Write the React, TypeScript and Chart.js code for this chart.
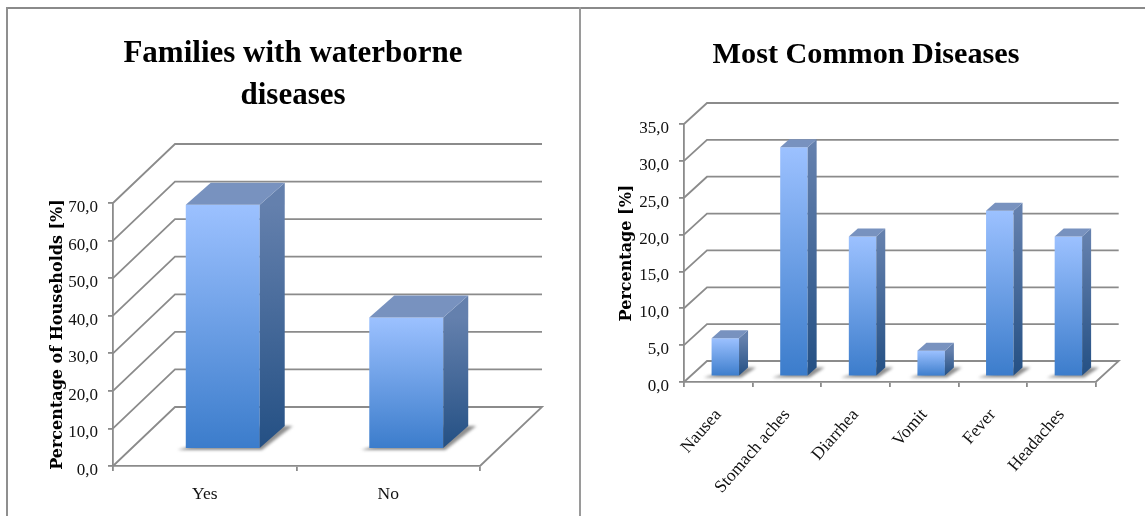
import React, { useEffect, useRef } from "react";
import { Chart, registerables } from "chart.js";

Chart.register(...registerables);

const householdCategories = ["Yes", "No"];
const householdValues = [65, 35];
const householdTicks = [0, 10, 20, 30, 40, 50, 60, 70];

const diseaseCategories = ["Nausea", "Stomach aches", "Diarrhea", "Vomit", "Fever", "Headaches"];
const diseaseValues = [5.2, 31.1, 19.0, 3.5, 22.5, 19.0];
const diseaseTicks = [0, 5, 10, 15, 20, 25, 30, 35];

const SERIF = "'Liberation Serif', serif";
const GRID = "#8b8b8b";
const LINE = 1.8;

type Panel = {
  title: string | string[];
  titleSize: number;
  yTitle: string;
  labels: string[];
  values: number[];
  ticks: number[];
  left: number;
  width: number;
  padLeft: number;
  yWidth: number;
  spacerWidth: number;
  yTitlePad: number;
  xHeight: number;
  titlePad: { top: number; bottom: number };
  wall: { dx: number; dy: number };
  barShift: { dx: number; dy: number };
  depth: { dx: number; dy: number };
  barFraction: number;
  rotation: number;
  xPad: number;
};

const panels: Panel[] = [
  {
    title: ["Families with waterborne", "diseases"],
    titleSize: 31,
    yTitle: "Percentage of Households [%]",
    labels: householdCategories,
    values: householdValues,
    ticks: householdTicks,
    left: 7,
    width: 572,
    padLeft: 0,
    yWidth: 106,
    spacerWidth: 99,
    yTitlePad: 41,
    xHeight: 50,
    titlePad: { top: 25, bottom: 86 },
    wall: { dx: 62, dy: 59 },
    barShift: { dx: 18, dy: 17 },
    depth: { dx: 25, dy: 22 },
    barFraction: 0.403,
    rotation: 0,
    xPad: 13,
  },
  {
    title: "Most Common Diseases",
    titleSize: 30.2,
    yTitle: "Percentage [%]",
    labels: diseaseCategories,
    values: diseaseValues,
    ticks: diseaseTicks,
    left: 579,
    width: 566,
    padLeft: 8,
    yWidth: 97,
    spacerWidth: 49.3,
    yTitlePad: 30,
    xHeight: 134,
    titlePad: { top: 26, bottom: 48 },
    wall: { dx: 23, dy: 21 },
    barShift: { dx: 7, dy: 5.5 },
    depth: { dx: 9, dy: 8 },
    barFraction: 0.4,
    rotation: 49,
    xPad: 18,
  },
];

// Extrudes the flat bars and draws the back wall and floor of the box.
function boxPlugin(p: Panel) {
  return {
    id: "box3d",
    afterUpdate(chart: any) {
      // Digits sit a little below the tick in this chart style.
      chart.scales.y.getLabelItems().forEach((item: any) => {
        item.options.translation[1] += 4.5;
      });
    },
    beforeDatasetsDraw(chart: any) {
      const { ctx, chartArea, scales } = chart;
      const { dx, dy } = p.wall;
      ctx.save();
      ctx.strokeStyle = GRID;
      ctx.lineWidth = LINE;
      p.ticks.forEach((t) => {
        const y = scales.y.getPixelForValue(t);
        ctx.beginPath();
        ctx.moveTo(chartArea.left, y);
        ctx.lineTo(chartArea.left + dx, y - dy);
        ctx.lineTo(chartArea.right + dx, y - dy);
        if (t === 0) {
          ctx.lineTo(chartArea.right, y);
        }
        ctx.stroke();
      });

      // Soft contact shadow on the floor under each bar.
      const { dx: sx, dy: sy } = p.barShift;
      const d = p.depth;
      const spread = 8;
      ctx.filter = "blur(1.8px)";
      ctx.fillStyle = "rgba(105,105,105,0.75)";
      chart.getDatasetMeta(0).data.forEach((bar: any) => {
        const xL = bar.x - bar.width / 2 + sx;
        const xR = bar.x + bar.width / 2 + sx;
        const base = bar.base - sy;
        ctx.beginPath();
        ctx.moveTo(xL - spread, base + 2);
        ctx.lineTo(xR + 2, base + 2);
        ctx.lineTo(xR + d.dx + spread, base - d.dy);
        ctx.lineTo(xR, base - d.dy);
        ctx.closePath();
        ctx.fill();
      });
      ctx.restore();

      ctx.save();
      ctx.translate(sx, -sy);
    },
    afterDatasetsDraw(chart: any) {
      const { ctx } = chart;
      const d = p.depth;
      chart.getDatasetMeta(0).data.forEach((bar: any) => {
        const xL = bar.x - bar.width / 2;
        const xR = bar.x + bar.width / 2;
        const side = ctx.createLinearGradient(0, bar.y, 0, bar.base);
        side.addColorStop(0, "#6480ad");
        side.addColorStop(1, "#245084");
        ctx.fillStyle = side;
        ctx.beginPath();
        ctx.moveTo(xR, bar.y);
        ctx.lineTo(xR + d.dx, bar.y - d.dy);
        ctx.lineTo(xR + d.dx, bar.base - d.dy);
        ctx.lineTo(xR, bar.base);
        ctx.closePath();
        ctx.fill();
        ctx.fillStyle = "#7892bf";
        ctx.beginPath();
        ctx.moveTo(xL, bar.y);
        ctx.lineTo(xL + d.dx, bar.y - d.dy);
        ctx.lineTo(xR + d.dx, bar.y - d.dy);
        ctx.lineTo(xR, bar.y);
        ctx.closePath();
        ctx.fill();
      });
      ctx.restore();
    },
  };
}

function PanelChart({ panel }: { panel: Panel }) {
  const ref = useRef<HTMLCanvasElement | null>(null);
  useEffect(() => {
    const chart = new Chart(ref.current as HTMLCanvasElement, {
      type: "bar",
      data: {
        labels: panel.labels,
        datasets: [
          {
            data: panel.values,
            clip: false,
            borderWidth: 0,
            barPercentage: panel.barFraction,
            categoryPercentage: 1,
            backgroundColor: (c: any) => {
              const y = c.chart.scales.y;
              const value = panel.values[c.dataIndex];
              if (!y || value === undefined || !c.chart.chartArea) return "#6ea0e8";
              const g = c.chart.ctx.createLinearGradient(0, y.getPixelForValue(value), 0, y.getPixelForValue(0));
              g.addColorStop(0, "#9cc1ff");
              g.addColorStop(1, "#3b7ccb");
              return g;
            },
          },
        ],
      },
      options: {
        animation: false,
        responsive: false,
        layout: { padding: { left: panel.padLeft, right: 0, top: 0, bottom: 0 } },
        plugins: {
          legend: { display: false },
          tooltip: { enabled: false },
          title: {
            display: true,
            text: panel.title,
            color: "#000",
            font: { family: SERIF, weight: "bold", size: panel.titleSize, lineHeight: 42 / panel.titleSize },
            padding: panel.titlePad,
          },
        },
        scales: {
          x: {
            afterFit: (s: any) => {
              s.height = panel.xHeight;
            },
            border: { color: GRID, width: LINE },
            grid: { drawOnChartArea: false, color: GRID, tickLength: 5, lineWidth: LINE },
            ticks: {
              color: "#111",
              autoSkip: false,
              maxRotation: panel.rotation,
              minRotation: panel.rotation,
              padding: panel.xPad,
              font: { family: SERIF, size: 17.5 },
            },
          },
          y: {
            min: panel.ticks[0],
            max: panel.ticks[panel.ticks.length - 1],
            afterFit: (s: any) => {
              s.width = panel.yWidth;
            },
            afterBuildTicks: (s: any) => {
              s.ticks = panel.ticks.map((value) => ({ value }));
            },
            border: { color: GRID, width: LINE },
            grid: { drawOnChartArea: false, color: GRID, tickLength: 5, lineWidth: LINE },
            title: {
              display: true,
              text: panel.yTitle,
              color: "#000",
              font: { family: "'DejaVu Serif', serif", weight: "bold", size: 16, lineHeight: 1.2 },
              padding: { top: panel.yTitlePad, bottom: 0 },
            },
            ticks: {
              color: "#111",
              padding: 10,
              font: { family: SERIF, size: 17 },
              callback: (v: any) => Number(v).toFixed(1).replace(".", ","),
            },
          },
          // Empty axis that reserves the margin right of the floor.
          spacer: {
            position: "right",
            grid: { display: false },
            border: { display: false },
            ticks: { display: false },
            afterFit: (s: any) => {
              s.width = panel.spacerWidth;
            },
          },
        },
      },
      plugins: [boxPlugin(panel)],
    } as any);
    return () => chart.destroy();
  }, [panel]);
  return (
    <canvas
      ref={ref}
      width={panel.width}
      height={508}
      style={{ position: "absolute", left: panel.left, top: 8, width: panel.width, height: 508 }}
    />
  );
}

export default function App() {
  return (
    <div style={{ position: "absolute", left: 0, top: 0, width: 1145, height: 516, overflow: "hidden", background: "#fff" }}>
      <div style={{ position: "absolute", left: 6, top: 7, width: 1139, height: 2, background: "#8a8a8a" }} />
      <div style={{ position: "absolute", left: 6, top: 7, width: 2, height: 509, background: "#8f8f8f" }} />
      <div style={{ position: "absolute", left: 578.5, top: 7, width: 2, height: 509, background: "#9a9a9a" }} />
      {panels.map((p) => (
        <PanelChart key={p.left} panel={p} />
      ))}
    </div>
  );
}
